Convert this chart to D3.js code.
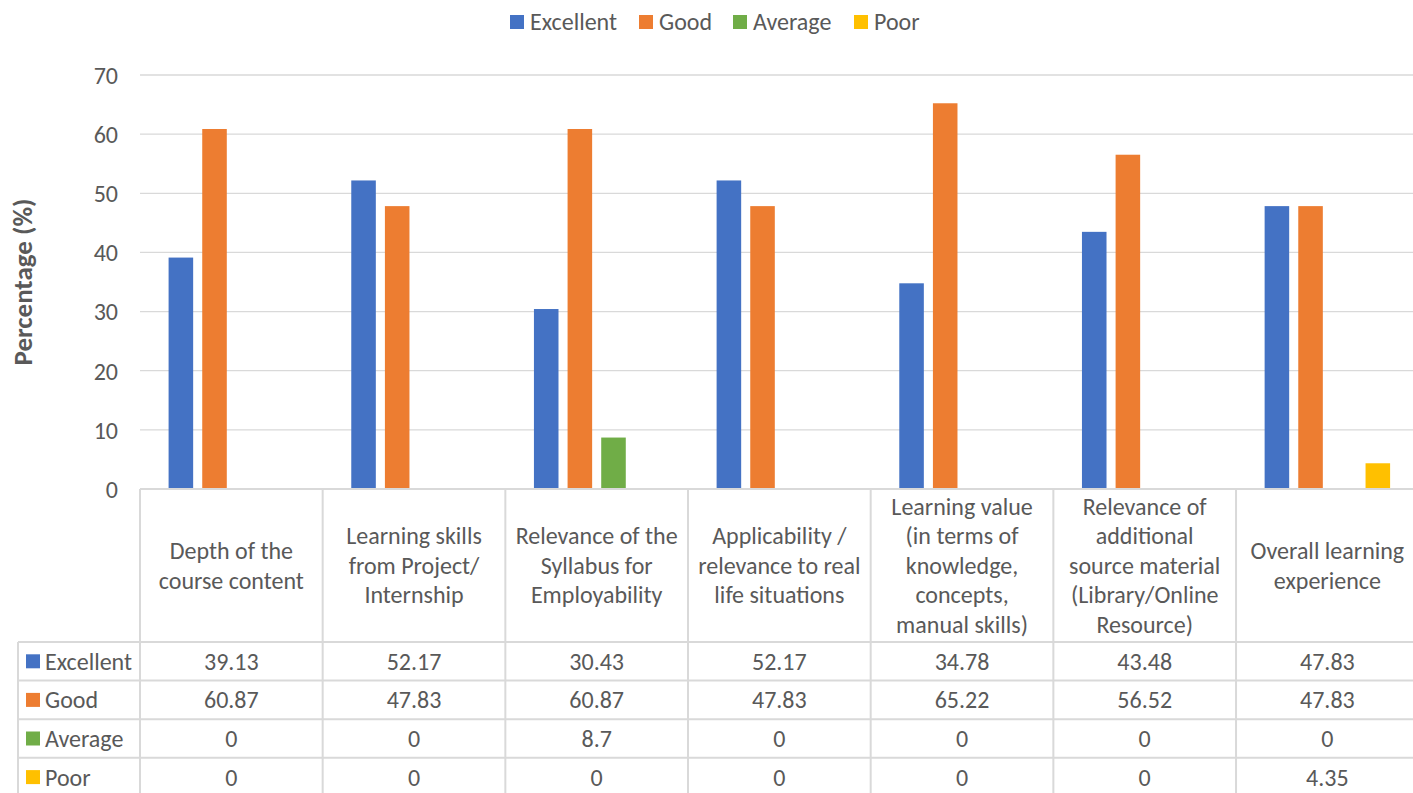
<!DOCTYPE html>
<html><head><meta charset="utf-8">
<script src="https://cdn.jsdelivr.net/npm/d3@7"></script>
<style>
body{margin:0;background:#fff;}
svg text{font-family:Carlito,"Liberation Sans","Noto Sans",sans-serif;fill:#595959;}
</style></head><body>
<svg id="c" width="1413" height="793"></svg>
<script>
const categories = [
  "Depth of the\ncourse content",
  "Learning skills\nfrom Project/\nInternship",
  "Relevance of the\nSyllabus for\nEmployability",
  "Applicability /\nrelevance to real\nlife situations",
  "Learning value\n(in terms of\nknowledge,\nconcepts,\nmanual skills)",
  "Relevance of\nadditional\nsource material\n(Library/Online\nResource)",
  "Overall learning\nexperience"
];
const seriesNames = ["Excellent","Good","Average","Poor"];
const excellent = [39.13,52.17,30.43,52.17,34.78,43.48,47.83];
const good = [60.87,47.83,60.87,47.83,65.22,56.52,47.83];
const average = [0,0,8.7,0,0,0,0];
const poor = [0,0,0,0,0,0,4.35];
const yTicks = [0,10,20,30,40,50,60,70];
const colors = ["#4472C4","#ED7D31","#70AD47","#FFC000"];
const series = [excellent, good, average, poor];

(function(){
const FS = 24;
const svg = d3.select("#c");
const left = 140, right = 1418.7, pTop = 75, bottom = 489;
const x = d3.scaleBand().domain(categories.map((d,i)=>i)).range([left,right]).padding(0);
const y = d3.scaleLinear().domain([0,70]).range([bottom,pTop]);
const inner = d3.scaleBand().domain(seriesNames).range([0,x.bandwidth()]).paddingInner(0.27).paddingOuter(0.85);

svg.append("g").selectAll("line").data(yTicks.filter(t=>t>0)).join("line")
  .attr("x1",left).attr("x2",1413).attr("y1",d=>y(d)).attr("y2",d=>y(d))
  .attr("stroke","#d9d9d9").attr("stroke-width",1.3);

const yAxis = svg.append("g").attr("transform",`translate(${left-22},0)`)
  .call(d3.axisLeft(y).tickValues(yTicks).tickSize(0).tickPadding(0));
yAxis.select(".domain").remove();
yAxis.selectAll("text").attr("font-size",FS).style("font-family",'Carlito,"Liberation Sans","Noto Sans",sans-serif').style("fill","#595959").attr("dy","0.35em");

svg.append("text").attr("transform",`translate(23,${(pTop+bottom)/2}) rotate(-90)`)
  .attr("text-anchor","middle").attr("dy","0.35em").attr("font-size",27).attr("font-weight","bold").text("Percentage (%)");

seriesNames.forEach((s,si)=>{
  svg.append("g").selectAll("rect").data(series[si]).join("rect")
    .attr("x",(d,i)=>x(i)+inner(s)).attr("width",inner.bandwidth())
    .attr("y",d=>y(d)).attr("height",d=>bottom-y(d)).attr("fill",colors[si]);
});

const rowTop = 642, rowH = 38.6, tableLeft = 18;
const tg = svg.append("g");
tg.append("line").attr("x1",left).attr("x2",1413).attr("y1",bottom).attr("y2",bottom).attr("stroke","#d9d9d9").attr("stroke-width",2);
for(let r=0;r<4;r++){
  tg.append("line").attr("x1",tableLeft).attr("x2",1413).attr("y1",rowTop+r*rowH).attr("y2",rowTop+r*rowH).attr("stroke","#d9d9d9").attr("stroke-width",2);
}
categories.forEach((c,i)=>{
  tg.append("line").attr("x1",x(i)).attr("x2",x(i)).attr("y1",bottom).attr("y2",793).attr("stroke","#d9d9d9").attr("stroke-width",2);
});
tg.append("line").attr("x1",tableLeft).attr("x2",tableLeft).attr("y1",rowTop).attr("y2",793).attr("stroke","#d9d9d9").attr("stroke-width",2);

const lh = 29.5;
categories.forEach((c,i)=>{
  const lines = c.split("\n");
  const cy = (bottom+rowTop)/2;
  const t = tg.append("text").attr("text-anchor","middle").attr("font-size",FS)
    .attr("x",x(i)+x.bandwidth()/2);
  lines.forEach((l,k)=>{
    t.append("tspan").attr("x",x(i)+x.bandwidth()/2)
      .attr("y",cy+(k-(lines.length-1)/2)*lh).attr("dy","0.35em").text(l);
  });
});

seriesNames.forEach((s,si)=>{
  const cy = rowTop+si*rowH+rowH/2;
  tg.append("rect").attr("x",26).attr("y",cy-7).attr("width",14).attr("height",14).attr("fill",colors[si]);
  tg.append("text").attr("x",45).attr("y",cy).attr("dy","0.35em").attr("font-size",FS).text(s);
  series[si].forEach((v,i)=>{
    tg.append("text").attr("x",x(i)+x.bandwidth()/2).attr("y",cy).attr("dy","0.35em")
      .attr("text-anchor","middle").attr("font-size",FS).text(v);
  });
});

const legX = [510,639,733,854];
seriesNames.forEach((s,si)=>{
  svg.append("rect").attr("x",legX[si]).attr("y",15).attr("width",14).attr("height",14).attr("fill",colors[si]);
  svg.append("text").attr("x",legX[si]+20).attr("y",22).attr("dy","0.35em").attr("font-size",FS).text(s);
});
})();
</script></body></html>
